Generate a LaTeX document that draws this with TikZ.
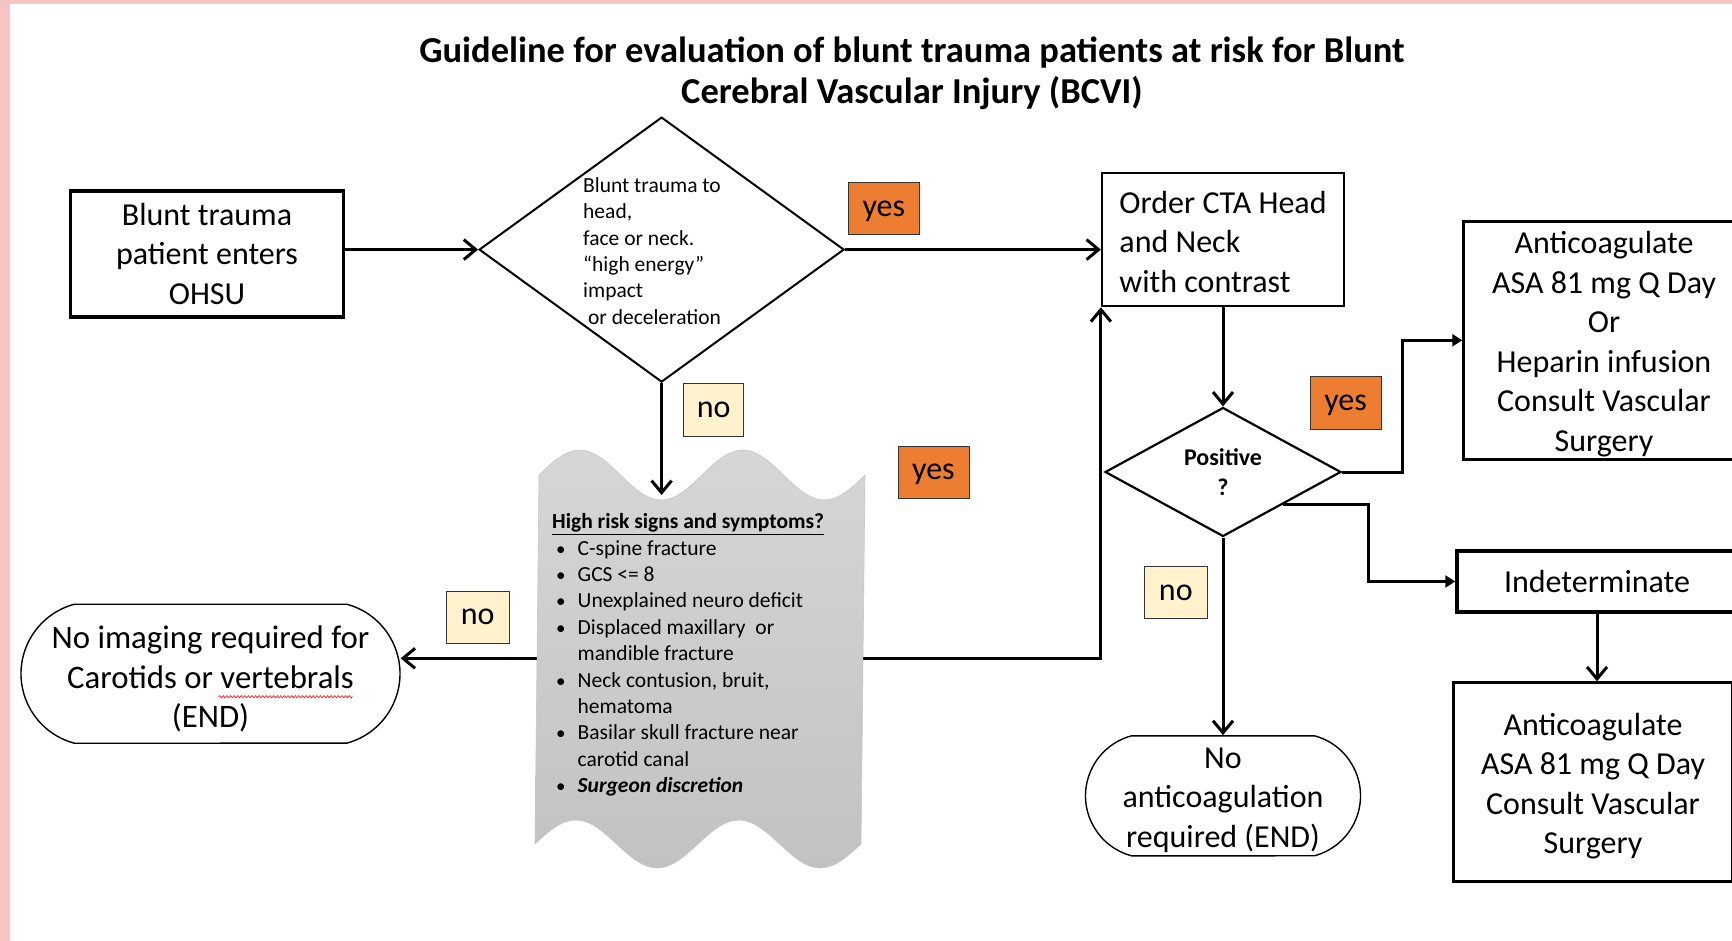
\documentclass[tikz,border=0pt]{standalone}
\usepackage{fontspec}
\setmainfont{Carlito}
\usetikzlibrary{arrows.meta,shapes.geometric,shapes.misc,calc,decorations.pathmorphing}
\definecolor{YesOrange}{HTML}{ED7D31}
\definecolor{NoCream}{HTML}{FFF2CC}
\definecolor{TapeTop}{HTML}{D6D6D6}
\definecolor{TapeBottom}{HTML}{C2C2C2}
\definecolor{SlideEdge}{HTML}{F8C3C3}
\newcommand{\BoxFont}{\fontsize{32}{39.5}\selectfont}
\newcommand{\NoteFont}{\fontsize{21.5}{26.4}\selectfont}
\newcommand{\AskFont}{\fontsize{24}{30}\selectfont\bfseries}
\newcommand{\HeadFont}{\fontsize{36.5}{41}\selectfont\bfseries}
\newcommand{\sign}[1]{\makebox[25.5pt][l]{\hspace{4pt}{\fontsize{19}{19}\selectfont\textbullet}}#1}
\newcommand{\signcont}[1]{\hspace*{25.5pt}#1}
% pushes the first line of a box down a little
\newcommand{\topgap}[1]{\rule{0pt}{#1}}

\begin{document}
\begin{tikzpicture}[
  x=1pt, y=-1pt,
  box/.style={draw, line width=2.2pt, align=center, font=\BoxFont, inner sep=0pt},
  ask/.style={draw, diamond, line width=2pt, inner sep=0pt},
  term/.style={draw, rounded rectangle, rounded rectangle arc length=150, line width=1.4pt, align=center, font=\BoxFont, inner sep=0pt},
  tag/.style={draw=black!80, line width=0.8pt, font=\BoxFont, text height=15pt, text depth=0pt, minimum width=71pt, minimum height=52pt, inner sep=0pt},
  flow/.style={line width=3pt, -{Straight Barb[length=12pt, width=20pt]}},
  elbow/.style={line width=3pt, -{Triangle[length=10pt, width=12pt]}}
]
% page and slide edge
\path[use as bounding box, fill=white] (0,0) rectangle (1732,941);
\fill[SlideEdge] (0,0) rectangle (10,941);
\fill[SlideEdge] (0,0) rectangle (1732,4);

\node[align=center, font=\HeadFont] (title) at (912,73)
  {Guideline for evaluation of blunt trauma patients at risk for Blunt\\Cerebral Vascular Injury (BCVI)};

% wave shaped box with the risk list
\path[top color=TapeTop, bottom color=TapeBottom, draw=black!22, line width=0.6pt]
  (539,475) sin (579.75,450) cos (620.5,475) sin (661.25,500) cos (702,475)
  sin (742.75,450) cos (783.5,475) sin (824.25,500) cos (865,475)
  -- (861,844) sin (820.25,868) cos (779.5,844) sin (738.75,820) cos (698,844)
  sin (657.25,868) cos (616.5,844) sin (575.75,820) cos (535,844) -- cycle;
\node[minimum width=326pt, minimum height=300pt, inner sep=0pt] (tape) at (700,658.3) {};
\coordinate (dip) at (661.6,495);
\node[anchor=west, align=left, font=\NoteFont, inner sep=0pt] (signs) at (552,655)
  {\textbf{\underline{High risk signs and symptoms?}}\\
   \sign{C-spine fracture}\\
   \sign{GCS <= 8}\\
   \sign{Unexplained neuro deficit}\\
   \sign{Displaced maxillary\ \ or}\\
   \signcont{mandible fracture}\\
   \sign{Neck contusion, bruit,}\\
   \signcont{hematoma}\\
   \sign{Basilar skull fracture near}\\
   \signcont{carotid canal}\\
   \sign{\textbf{\textit{Surgeon discretion}}}};

% main steps
\node[box, line width=3.3pt, minimum width=273pt, minimum height=126pt] (start) at (207,254)
  {Blunt trauma\\patient enters\\OHSU};
\node[ask, minimum width=365pt, minimum height=265pt] (d1) at (661.6,249.6) {};
\node[anchor=west, align=left, font=\NoteFont, inner sep=0pt] (d1text) at (583,251)
  {Blunt trauma to\\head,\\face or neck.\\“high energy”\\impact\\\ or deceleration};
\node[box, align=left, minimum width=242pt, minimum height=133pt] (cta) at (1223,239.7)
  {\topgap{26pt}Order CTA Head\\and Neck\\with contrast};
\node[ask, line width=2.2pt, aspect=1.83, minimum width=236pt, minimum height=129pt, align=center, font=\AskFont] (d2) at (1223,472)
  {Positive\\?};
\node[box, line width=2.5pt, minimum width=281pt, minimum height=238pt] (anti1) at (1604,340.3)
  {\topgap{29.5pt}Anticoagulate\\ASA 81 mg Q Day\\Or\\Heparin infusion\\Consult Vascular\\Surgery};
\node[box, line width=3.5pt, minimum width=280pt, minimum height=61pt] (indet) at (1597,581.5)
  {Indeterminate};
\node[box, line width=2.5pt, minimum width=279pt, minimum height=199pt] (anti2) at (1593,782)
  {\topgap{30.5pt}Anticoagulate\\ASA 81 mg Q Day\\Consult Vascular\\Surgery};
\node[term, minimum width=272pt, minimum height=120pt] (end2) at (1223,795.8)
  {\topgap{29.5pt}No\\anticoagulation\\required (END)};
\node[term, minimum width=379pt, minimum height=139pt, font=\fontsize{32.8}{39.5}\selectfont] (end1) at (210.5,673.7)
  {\topgap{34pt}No imaging required for\\Carotids or vertebrals\\(END)};
\draw[red, line width=0.6pt, decorate, decoration={snake, amplitude=1.1pt, segment length=3.6pt}]
  ($(end1.center)+(8,23)$) -- ($(end1.center)+(142,23)$);

% yes / no tags
\node[tag, fill=YesOrange] (yes1) at (883.8,208.8) {yes};
\node[tag, fill=YesOrange, minimum height=53pt] (yes2) at (1345.6,403) {yes};
\node[tag, fill=YesOrange] (yes3) at (933.4,472) {yes};
\node[tag, fill=NoCream, minimum width=60pt, minimum height=53pt] (no1) at (713.6,409.8) {no};
\node[tag, fill=NoCream, minimum width=63pt] (no2) at (477.6,617) {no};
\node[tag, fill=NoCream, minimum width=63pt] (no3) at (1175.8,592.6) {no};

% connectors
\draw[flow] (start.east |- d1.west) -- (d1.west);
\draw[flow] (d1.east) -- (d1.east -| cta.west);
\draw[flow] (d1.south) -- (dip);
\draw[flow] (tape.east) -| (cta.south west);
\draw[flow] (tape.west) -- (tape.west -| end1.east);
\draw[flow] (cta.south) -- (d2.north);
\draw[elbow] (d2.east) -| ($(d2.east)!0.5!(anti1.west)$) |- (anti1.west);
\draw[elbow] (d2.south east) -| ($(d2.south east)!0.5!(indet.west)$) |- (indet.west);
\draw[flow] (indet.south) -- (indet.south |- anti2.north);
\draw[flow] (d2.south) -- (end2.north);
\end{tikzpicture}
\end{document}
